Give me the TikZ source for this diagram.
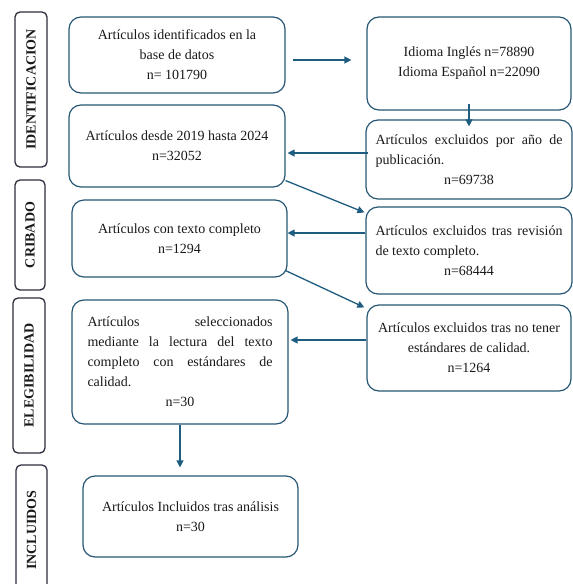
\documentclass[tikz,border=0pt]{standalone}
\usepackage{fontspec}
\setmainfont{Liberation Serif}
\usepackage{tikz}
\usetikzlibrary{arrows.meta}
\hyphenpenalty=10000
\definecolor{frameColor}{RGB}{38,86,116}
\definecolor{arrowColor}{RGB}{30,92,128}
\definecolor{stageColor}{RGB}{45,45,62}
\definecolor{textColor}{RGB}{25,25,25}
\tikzstyle{flowChart} = [x = 1pt, y = -1pt, every node/.style={font=\fontsize{14}{20}\selectfont, text=textColor}]
\tikzstyle{stageBox} = [draw=stageColor, line width=1.3pt, rounded corners=5pt, rotate=90, font=\fontsize{14}{20}\selectfont\bfseries, inner sep=0pt]
\tikzstyle{recordBox} = [draw=frameColor, line width=1.2pt, rounded corners=12pt, align=center, inner sep=0pt]
\tikzstyle{excludedBox} = [recordBox, align=justify, text width=187pt, inner xsep=9.5pt]
\tikzstyle{flowArrow} = [draw=arrowColor, line width=1.3pt, -{Triangle[length=7pt, width=7pt]}]

\begin{document}
\begin{tikzpicture}[flowChart]
          \useasboundingbox (0,0) rectangle (573,584);
          % etapas
          \node[stageBox, minimum width=155, minimum height=32] (idStage) at (31,89.5) {IDENTIFICACION};
          \node[stageBox, minimum width=110, minimum height=30] (screenStage) at (30,235) {CRIBADO};
          \node[stageBox, minimum width=155, minimum height=32] (eligStage) at (29,375.5) {ELEGIBILIDAD};
          \node[stageBox, minimum width=130, minimum height=31] (inclStage) at (31.5,530) {INCLUIDOS};

          % columna izquierda
          \node[recordBox, minimum width=216, minimum height=76] (dbRecords) at (177,55) {Artículos identificados en la\\base de datos\\n= 101790};
          \node[recordBox, minimum width=216, minimum height=82] (yearRecords) at (177,146) {Artículos desde 2019 hasta 2024\\n=32052};
          \node[recordBox, minimum width=215, minimum height=77] (fullText) at (179.5,238.5) {Artículos con texto completo\\n=1294};
          \node[recordBox, align=justify, text width=185, inner xsep=15.5, minimum height=124] (selected) at (180,362) {Artículos seleccionados\linebreak mediante la lectura del texto\linebreak completo con estándares de\linebreak calidad.\par{\centering n=30\par}};
          \node[recordBox, minimum width=215, minimum height=81] (included) at (190.5,516.5) {Artículos Incluidos tras análisis\\n=30};

          % columna derecha
          \node[recordBox, minimum width=204, minimum height=93] (languages) at (469,63.5) {Idioma Inglés n=78890\\Idioma Español n=22090};
          \node[excludedBox, minimum height=79] (byYear) at (469,159.5) {Artículos excluidos por año de\linebreak publicación.\par{\centering n=69738\par}};
          \node[excludedBox, minimum height=87] (byFullText) at (469,250.5) {Artículos excluidos tras revisión\linebreak de texto completo.\par{\centering n=68444\par}};
          \node[recordBox, minimum width=204, minimum height=86] (byQuality) at (469,348) {Artículos excluidos tras no tener\\estándares de calidad.\\n=1264};

          % flechas
          \draw[flowArrow] ([xshift=7pt, yshift=-5pt]dbRecords.east) -- ([xshift=-15pt, yshift=3.5pt]languages.west);
          \draw[flowArrow] ([yshift=7pt]languages.south) -- ([yshift=-7pt]byYear.north);
          \draw[flowArrow] ([xshift=3pt, yshift=6.5pt]byYear.west) -- ([xshift=2pt, yshift=-7pt]yearRecords.east);
          \draw[flowArrow] ([yshift=7pt]yearRecords.south east) -- ([xshift=-1pt, yshift=-6pt]byFullText.north west);
          \draw[flowArrow] ([yshift=17.5pt]byFullText.west) -- ([yshift=5.5pt]fullText.east);
          \draw[flowArrow] ([xshift=-2pt, yshift=7pt]fullText.south east) -- ([xshift=-2pt, yshift=-3pt]byQuality.north west);
          \draw[flowArrow] ([yshift=8pt]byQuality.west) -- ([xshift=2pt, yshift=22pt]selected.east);
          \draw[flowArrow] (selected.south) -- ([yshift=8pt]selected.south |- included.north);
\end{tikzpicture}
\end{document}
